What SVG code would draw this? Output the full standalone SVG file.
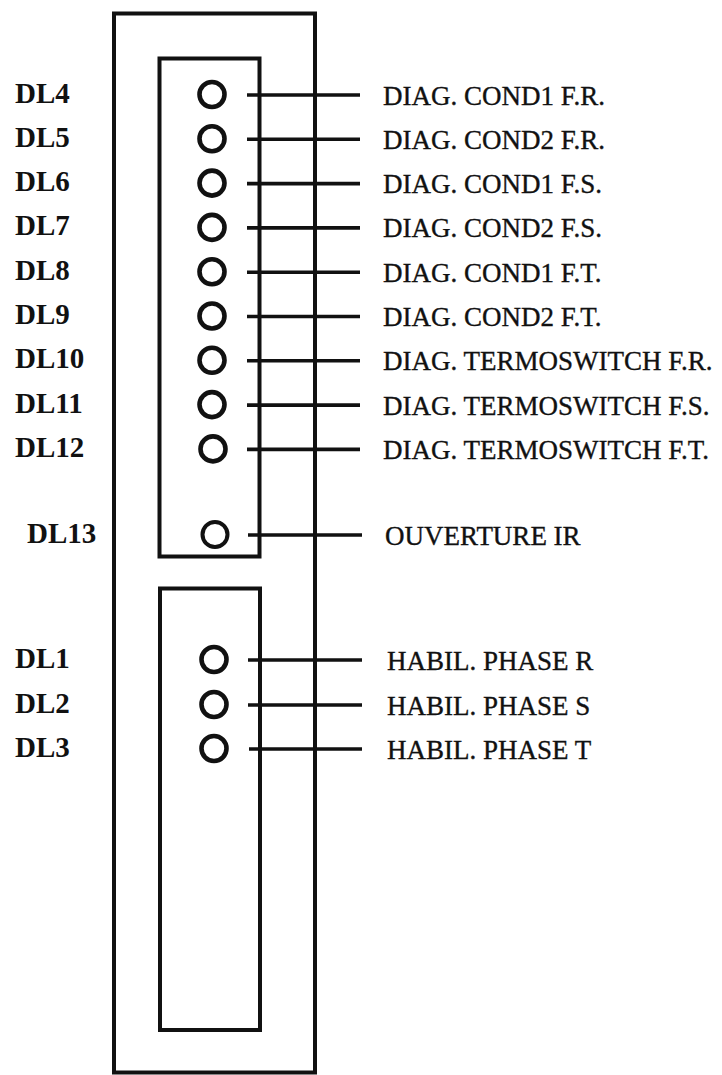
<svg xmlns="http://www.w3.org/2000/svg" width="722" height="1075" viewBox="0 0 722 1075">
<style>
.box{fill:none;stroke:#111;stroke-width:4}
.led{fill:none;stroke:#111;stroke-width:4.6}
.wire{stroke:#111;stroke-width:3.6}
.dl{font-family:"Liberation Serif",serif;font-size:29px;font-weight:bold;fill:#111}
.lb{font-family:"Liberation Serif",serif;font-size:27px;fill:#111;stroke:#111;stroke-width:0.35}
</style>
<rect width="722" height="1075" fill="#fff"/>
<g id="frame">
<rect class="box" x="114" y="13.5" width="201" height="1059"/>
<rect class="box" x="159.5" y="58.5" width="100" height="498"/>
<rect class="box" x="160" y="588.5" width="100" height="441.5"/>
</g>
<g id="connectors">
<line class="wire" x1="247" y1="95" x2="360" y2="95"/>
<line class="wire" x1="247" y1="139.3" x2="360" y2="139.3"/>
<line class="wire" x1="247" y1="183.6" x2="360" y2="183.6"/>
<line class="wire" x1="247" y1="227.9" x2="360" y2="227.9"/>
<line class="wire" x1="247" y1="272.2" x2="360" y2="272.2"/>
<line class="wire" x1="247" y1="316.5" x2="360" y2="316.5"/>
<line class="wire" x1="247" y1="360.8" x2="360" y2="360.8"/>
<line class="wire" x1="247" y1="405.1" x2="360" y2="405.1"/>
<line class="wire" x1="247" y1="449.4" x2="360" y2="449.4"/>
<line class="wire" x1="248" y1="535" x2="362" y2="535"/>
<line class="wire" x1="248" y1="660" x2="362" y2="660"/>
<line class="wire" x1="248" y1="705" x2="362" y2="705"/>
<line class="wire" x1="249" y1="749" x2="362" y2="749"/>
</g>
<g id="DL4"><text class="dl" x="15" y="102.5">DL4</text><circle class="led" cx="212" cy="94.5" r="12.5"/><text class="lb" x="383" y="104.5">DIAG. COND1 F.R.</text></g>
<g id="DL5"><text class="dl" x="15" y="146.8">DL5</text><circle class="led" cx="212" cy="138.8" r="12.5"/><text class="lb" x="383" y="148.8">DIAG. COND2 F.R.</text></g>
<g id="DL6"><text class="dl" x="15" y="191.1">DL6</text><circle class="led" cx="212" cy="183.1" r="12.5"/><text class="lb" x="383" y="193.1">DIAG. COND1 F.S.</text></g>
<g id="DL7"><text class="dl" x="15" y="235.4">DL7</text><circle class="led" cx="212" cy="227.4" r="12.5"/><text class="lb" x="383" y="237.4">DIAG. COND2 F.S.</text></g>
<g id="DL8"><text class="dl" x="15" y="279.7">DL8</text><circle class="led" cx="212" cy="271.7" r="12.5"/><text class="lb" x="383" y="281.7">DIAG. COND1 F.T.</text></g>
<g id="DL9"><text class="dl" x="15" y="324">DL9</text><circle class="led" cx="212" cy="316" r="12.5"/><text class="lb" x="383" y="326">DIAG. COND2 F.T.</text></g>
<g id="DL10"><text class="dl" x="15" y="368.3">DL10</text><circle class="led" cx="212" cy="360.3" r="12.5"/><text class="lb" x="383" y="370.3">DIAG. TERMOSWITCH F.R.</text></g>
<g id="DL11"><text class="dl" x="15" y="412.6">DL11</text><circle class="led" cx="212" cy="404.6" r="12.5"/><text class="lb" x="383" y="414.6">DIAG. TERMOSWITCH F.S.</text></g>
<g id="DL12"><text class="dl" x="15" y="456.9">DL12</text><circle class="led" cx="213" cy="448.9" r="12.5"/><text class="lb" x="383" y="458.9">DIAG. TERMOSWITCH F.T.</text></g>
<g id="DL13"><text class="dl" x="27" y="543">DL13</text><circle class="led" cx="215" cy="534.5" r="12.5" style="stroke-width:4"/><text class="lb" x="385" y="544.5">OUVERTURE IR</text></g>
<g id="DL1"><text class="dl" x="15" y="668">DL1</text><circle class="led" cx="214" cy="659.5" r="12.5"/><text class="lb" x="387" y="669.5">HABIL. PHASE R</text></g>
<g id="DL2"><text class="dl" x="15" y="713">DL2</text><circle class="led" cx="214" cy="704.5" r="12.5"/><text class="lb" x="387" y="714.5">HABIL. PHASE S</text></g>
<g id="DL3"><text class="dl" x="15" y="757">DL3</text><circle class="led" cx="214" cy="748.5" r="12.5"/><text class="lb" x="387" y="758.5">HABIL. PHASE T</text></g>
</svg>
